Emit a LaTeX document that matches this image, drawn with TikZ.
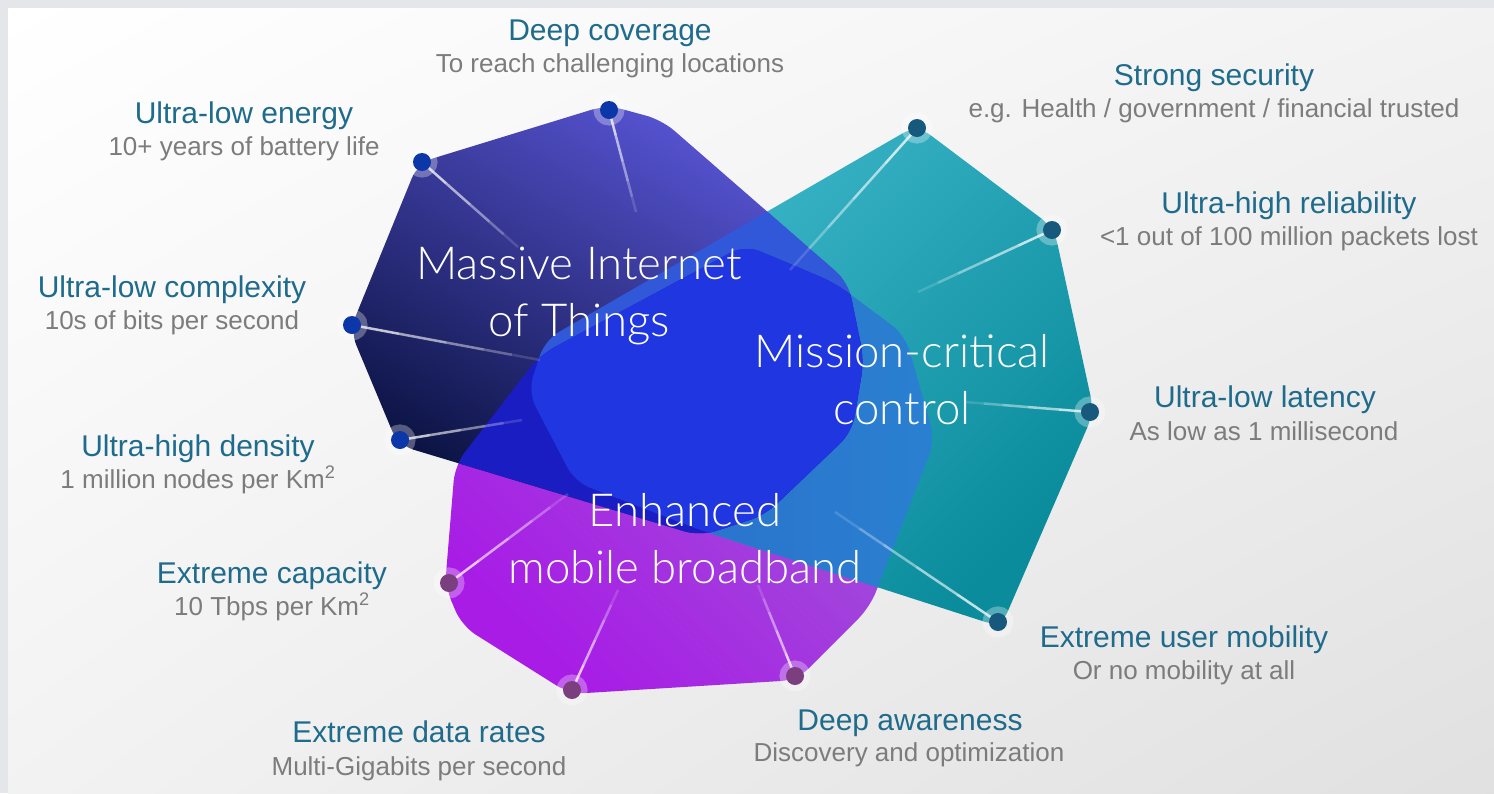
\documentclass[tikz,border=0pt]{standalone}
\usepackage{fontspec}
\setmainfont{Liberation Sans}
\newfontfamily\thinfont{Lato Light}
\usetikzlibrary{shadings,calc}
\definecolor{bgstrip}{HTML}{E4E6E9}
\definecolor{ttl}{HTML}{1F6B8C}
\definecolor{sub}{HTML}{7C7C7C}
\definecolor{miotT}{HTML}{5A56D8}
\definecolor{miotM}{HTML}{1E2CA8}
\definecolor{miotB}{HTML}{08103C}
\definecolor{mcT}{HTML}{42BBCE}
\definecolor{mcB}{HTML}{0A8C9C}
\definecolor{embbT}{HTML}{9C60D4}
\definecolor{embbB}{HTML}{A81CE6}
\definecolor{colF}{HTML}{2A80D0}
\definecolor{colFb}{HTML}{2A66CA}
\definecolor{colBand}{HTML}{3158D8}
\definecolor{colE}{HTML}{1A1EC2}
\definecolor{colBlob}{HTML}{1F36E0}
\definecolor{dotmiot}{HTML}{0B37A8}
\definecolor{dotembb}{HTML}{7B3F7F}
\definecolor{dotmc}{HTML}{16597C}
\def\pMIOT{(418,163) -- (607,105) -- (662,120) -- (848,282) -- (864,360) -- (852,432) -- (765,515) -- (700,536) -- (398,445) -- (350,330) -- cycle}
\def\pMC{(917,125) -- (1054,228) -- (1094,412) -- (1001,627) -- (700,530) -- (575,482) -- (528,392) -- (545,340) -- cycle}
\def\pEMBB{(445,586) -- (462,626) -- (570,694) -- (797,680) -- (870,607) -- (935,440) -- (905,335) -- (835,283) -- (745,245) -- (540,355) -- (455,465) -- cycle}
\newcommand\rayfade[2]{%
  \draw[ray, opacity=.75] (#1) -- ($(#1)!.25!(#2)$);
  \draw[ray, opacity=.6] ($(#1)!.25!(#2)$) -- ($(#1)!.5!(#2)$);
  \draw[ray, opacity=.45] ($(#1)!.5!(#2)$) -- ($(#1)!.7!(#2)$);
  \draw[ray, opacity=.3] ($(#1)!.7!(#2)$) -- ($(#1)!.85!(#2)$);
  \draw[ray, opacity=.15] ($(#1)!.85!(#2)$) -- (#2);}
\begin{document}
\begin{tikzpicture}[x=1pt,y=-1pt,
  rc/.style={rounded corners=16pt},
  ray/.style={white, line width=2.5pt, line cap=butt},
  dotbase/.style={circle, inner sep=0pt, minimum size=18pt, preaction={draw=white, draw opacity=0.3, line width=13pt}},
  dm/.style={dotbase, fill=dotmiot},
  de/.style={dotbase, fill=dotembb},
  dc/.style={dotbase, fill=dotmc},
  ttlstyle/.style={anchor=base, text=ttl, font=\fontsize{30}{34}\selectfont, inner sep=0pt},
  substyle/.style={anchor=base, text=sub, font=\fontsize{26}{30}\selectfont, inner sep=0pt},
  big/.style={align=center, text=white, font=\thinfont\fontsize{45.5}{57}\selectfont, inner sep=0pt}
]
\useasboundingbox (0,0) rectangle (1494,793);
% background
\fill[bgstrip] (0,0) rectangle (1494,793);
\shade[upper left=white, upper right=white!95!black, lower left=white!95!black, lower right=white!88!black] (8,8) rectangle (1494,793);
% shapes
\shade[rc, top color=embbT, bottom color=embbB, shading angle=-45] \pEMBB;
\shade[rc, top color=mcT, bottom color=mcB, shading angle=45] \pMC;
\begin{scope}
  \clip[rc] \pMC;
  \shade[rc, left color=colFb, right color=colF] \pEMBB;
\end{scope}
\shade[rc, top color=miotT, middle color=miotM, bottom color=miotB, shading angle=-30] \pMIOT;
\begin{scope}
  \clip[rc] \pMIOT;
  \fill[rc, colBand] \pMC;
  \fill[rc, colE] \pEMBB;
  \clip[rc] \pMC;
  \fill[rc, colBlob] \pEMBB;
\end{scope}
% ray end points
\coordinate (e-cov) at (636,212);
\coordinate (e-energy) at (518,247);
\coordinate (e-compl) at (540,360);
\coordinate (e-dens) at (522,420);
\coordinate (e-cap) at (568,494);
\coordinate (e-rates) at (618,590);
\coordinate (e-aware) at (758,585);
\coordinate (e-mob) at (835,512);
\coordinate (e-lat) at (965,402);
\coordinate (e-rel) at (918,292);
\coordinate (e-sec) at (790,270);
% dots
\node[dm] (d-cov) at (609,110) {};
\node[dm] (d-energy) at (422,162) {};
\node[dm] (d-compl) at (352,325) {};
\node[dm] (d-dens) at (400,440) {};
\node[de] (d-cap) at (449,583) {};
\node[de] (d-rates) at (572,690) {};
\node[de] (d-aware) at (795,676) {};
\node[dc] (d-mob) at (998,622) {};
\node[dc] (d-lat) at (1090,412) {};
\node[dc] (d-rel) at (1052,230) {};
\node[dc] (d-sec) at (917,128) {};
% rays
\rayfade{d-cov}{e-cov}
\rayfade{d-energy}{e-energy}
\rayfade{d-compl}{e-compl}
\rayfade{d-dens}{e-dens}
\rayfade{d-cap}{e-cap}
\rayfade{d-rates}{e-rates}
\rayfade{d-aware}{e-aware}
\rayfade{d-mob}{e-mob}
\rayfade{d-lat}{e-lat}
\rayfade{d-rel}{e-rel}
\rayfade{d-sec}{e-sec}
% big labels
\node[big] (b-miot) at (579,296) {Massive Internet\\of Things};
\node[big] (b-mc) at (902,380) {Mission-critical\\control};
\node[big] (b-embb) at (685,539) {Enhanced\\mobile broadband};
% labels
\node[ttlstyle] (t-cov) at (610,40) {Deep coverage};
\node[substyle] (s-cov) at (610,72) {To reach challenging locations};
\node[ttlstyle] (t-energy) at (244,123) {Ultra-low energy};
\node[substyle] (s-energy) at (244,155) {10+ years of battery life};
\node[ttlstyle] (t-compl) at (172,297) {Ultra-low complexity};
\node[substyle] (s-compl) at (172,329) {10s of bits per second};
\node[ttlstyle] (t-dens) at (198,456) {Ultra-high density};
\node[substyle] (s-dens) at (198,488) {1 million nodes per Km\textsuperscript{2}};
\node[ttlstyle] (t-cap) at (272,583) {Extreme capacity};
\node[substyle] (s-cap) at (272,615) {10 Tbps per Km\textsuperscript{2}};
\node[ttlstyle] (t-rates) at (419,742) {Extreme data rates};
\node[substyle] (s-rates) at (419,775) {Multi-Gigabits per second};
\node[ttlstyle] (t-aware) at (910,730) {Deep awareness};
\node[substyle] (s-aware) at (909,761) {Discovery and optimization};
\node[ttlstyle] (t-mob) at (1184,647) {Extreme user mobility};
\node[substyle] (s-mob) at (1184,679) {Or no mobility at all};
\node[ttlstyle] (t-lat) at (1265,407) {Ultra-low latency};
\node[substyle] (s-lat) at (1264,440) {As low as 1 millisecond};
\node[ttlstyle] (t-rel) at (1289,213) {Ultra-high reliability};
\node[substyle] (s-rel) at (1289,245) {<1 out of 100 million packets lost};
\node[ttlstyle] (t-sec) at (1214,85) {Strong security};
\node[substyle] (s-sec) at (1214,117) {e.g. Health / government / financial trusted};
\end{tikzpicture}
\end{document}
